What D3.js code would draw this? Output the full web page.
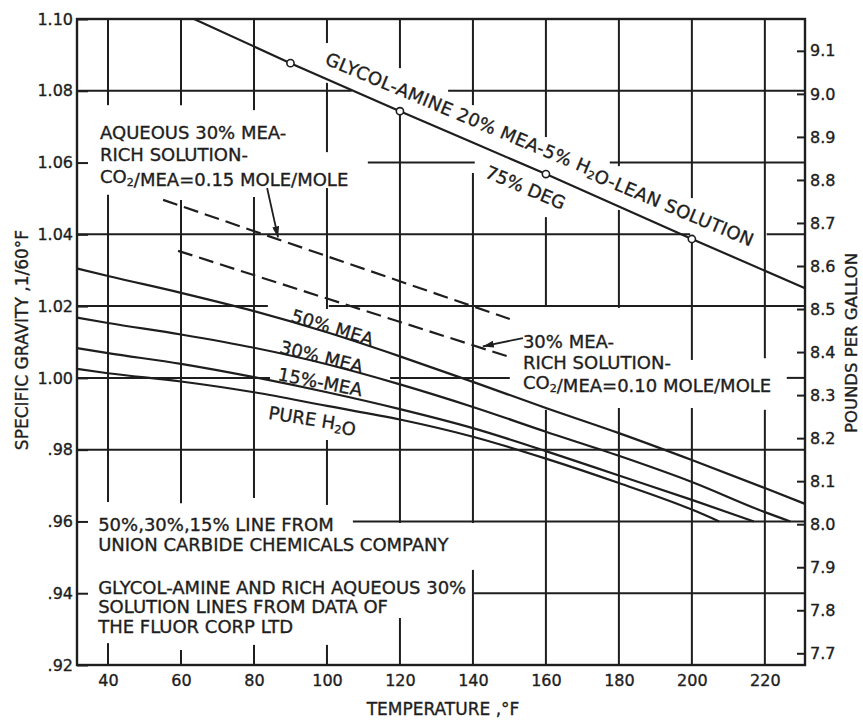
<!DOCTYPE html>
<html>
<head>
<meta charset="utf-8">
<script src="https://cdn.jsdelivr.net/npm/d3@7"></script>
<style>
  html, body { margin: 0; padding: 0; background: #fff; }
  svg { display: block; }
  text { font-family: "DejaVu Sans", "Liberation Sans", sans-serif; fill: #1e1e1e; stroke: #1e1e1e; stroke-width: 0.35px; }
</style>
</head>
<body>
<svg id="chart" width="863" height="721"></svg>
<script>
// ---- Axis ticks ----
const tempTicks = [40, 60, 80, 100, 120, 140, 160, 180, 200, 220];
const sgTicks = [0.92, 0.94, 0.96, 0.98, 1.00, 1.02, 1.04, 1.06, 1.08, 1.10];
const lbsTicks = [7.7, 7.8, 7.9, 8.0, 8.1, 8.2, 8.3, 8.4, 8.5, 8.6, 8.7, 8.8, 8.9, 9.0, 9.1];

// ---- Curves: [temperature °F, specific gravity 60/60°F] ----
const glycolAmine = [[63.5, 1.1000], [90, 1.0877], [120, 1.0743], [160, 1.0568], [200, 1.0387], [231, 1.0250]];
const glycolMarkers = [90, 120, 160, 200];
const mea50 = [[31.5, 1.0305], [40, 1.0284], [60, 1.0237], [80, 1.0186], [100, 1.0127], [120, 1.0060],
               [140, 0.9989], [160, 0.9916], [180, 0.9846], [200, 0.9771], [220, 0.9693], [231, 0.9649]];
const mea30 = [[31.5, 1.0168], [40, 1.0153], [60, 1.0121], [80, 1.0084], [100, 1.0038], [120, 0.9982],
               [140, 0.9919], [160, 0.9850], [180, 0.9783], [200, 0.9710], [220, 0.9626], [227, 0.9600]];
const mea15 = [[31.5, 1.0083], [40, 1.0069], [60, 1.0039], [80, 1.0002], [100, 0.9960], [120, 0.9913],
               [140, 0.9860], [160, 0.9796], [180, 0.9728], [200, 0.9660], [217, 0.9600]];
const pureWater = [[31.5, 1.0025], [40, 1.0013], [60, 0.9990], [80, 0.9960], [100, 0.9922], [120, 0.9884],
                   [140, 0.9836], [160, 0.9775], [180, 0.9707], [200, 0.9633], [207.5, 0.9600]];
// Rich aqueous 30% MEA solutions (dashed)
const rich015 = [[55.1, 1.0496], [150.1, 1.0164]];
const rich010 = [[59.2, 1.0354], [150.1, 1.0058]];

// ---- Grid lines are interrupted where lettering crosses them ----
const vGrid = [
  { t: 40,  gaps: [[1.0510, 1.0760], [0.9261, 0.9654]] },
  { t: 60,  gaps: [[1.0496, 1.0760], [0.9242, 0.9651]] },
  { t: 80,  gaps: [[1.0504, 1.0746], [0.9256, 0.9665]] },
  { t: 100, gaps: [[1.0822, 1.0933], [1.0529, 1.0629], [0.9827, 1.0192], [0.9256, 0.9646]] },
  { t: 120, gaps: [[1.0741, 1.0863], [0.9331, 0.9596]] },
  { t: 140, gaps: [[1.0571, 1.0760], [0.9465, 0.9596]] },
  { t: 160, gaps: [[1.0448, 1.0671], [0.9911, 1.0203]] },
  { t: 180, gaps: [[1.0468, 1.0590], [0.9916, 1.0195]] },
  { t: 200, gaps: [[1.0390, 1.0501], [0.9916, 1.0050]] },
  { t: 220, gaps: [[0.9911, 1.0055]] }
];
const hGrid = [
  { sg: 1.08, gaps: [[106.8, 133.2]] },
  { sg: 1.06, gaps: [[31.5, 111.2], [140.5, 177.5]] },
  { sg: 1.04, gaps: [[199.5, 220.5]] },
  { sg: 1.02, gaps: [[83.8, 100.5]] },
  { sg: 1.00, gaps: [[84.4, 117.3], [150.1, 226.0]] },
  { sg: 0.98, gaps: [] },
  { sg: 0.96, gaps: [[31.5, 107.1]] },
  { sg: 0.94, gaps: [[31.5, 140.3]] }
];

// ---- Lettering ----
const note015 = ["AQUEOUS 30% MEA-", "RICH SOLUTION-", "CO_2/MEA=0.15 MOLE/MOLE"];
const note010 = ["30% MEA-", "RICH SOLUTION-", "CO_2/MEA=0.10 MOLE/MOLE"];
const sourceNote1 = ["50%,30%,15% LINE FROM", "UNION CARBIDE CHEMICALS COMPANY"];
const sourceNote2 = ["GLYCOL-AMINE AND RICH AQUEOUS 30%", "SOLUTION LINES FROM DATA OF", "THE FLUOR CORP LTD"];
const curveLabels = [
  { text: "GLYCOL-AMINE 20% MEA-5% H_2O-LEAN SOLUTION", t: 99.2, sg: 1.0875, angle: 22.8, spacing: 0.35 },
  { text: "75% DEG", t: 143.0, sg: 1.0560, angle: 22.8, spacing: 0 },
  { text: "50% MEA", t: 89.9, sg: 1.0158, angle: 17, spacing: 0 },
  { text: "30% MEA", t: 86.8, sg: 1.0070, angle: 14, spacing: 0 },
  { text: "15%-MEA", t: 86.3, sg: 0.9994, angle: 11, spacing: 0 },
  { text: "PURE H_2O", t: 83.8, sg: 0.9886, angle: 9, spacing: 0 }
];

const ink = "#1e1e1e";
const svg = d3.select("#chart");
const x = d3.scaleLinear().domain([31.5, 231]).range([77, 805]);
const y = d3.scaleLinear().domain([0.92, 1.10]).range([665, 19]);
const yLbs = d3.scaleLinear().domain([0.92 * 8.34, 1.10 * 8.34]).range([665, 19]);

// Complement of the gaps inside [lo, hi]
function segments(lo, hi, gaps) {
  const out = [];
  let cur = lo;
  gaps.slice().sort((a, b) => a[0] - b[0]).forEach(([a, b]) => {
    if (a > cur) out.push([cur, a]);
    cur = Math.max(cur, b);
  });
  if (cur < hi) out.push([cur, hi]);
  return out;
}

const grid = svg.append("g").attr("stroke", ink).attr("stroke-width", 2).attr("fill", "none");
vGrid.forEach(g => {
  segments(0.92, 1.10, g.gaps).forEach(([a, b]) => {
    grid.append("line").attr("x1", x(g.t)).attr("x2", x(g.t)).attr("y1", y(a)).attr("y2", y(b));
  });
});
hGrid.forEach(g => {
  segments(31.5, 231, g.gaps).forEach(([a, b]) => {
    grid.append("line").attr("x1", x(a)).attr("x2", x(b)).attr("y1", y(g.sg)).attr("y2", y(g.sg));
  });
});

// ---- Curves ----
const line = d3.line().x(d => x(d[0])).y(d => y(d[1])).curve(d3.curveMonotoneX);
const curves = svg.append("g").attr("fill", "none").attr("stroke", ink).attr("stroke-width", 2.2);
[glycolAmine, mea50, mea30, mea15, pureWater].forEach(c => curves.append("path").attr("d", line(c)));
[rich015, rich010].forEach(c => curves.append("path").attr("d", line(c)).attr("stroke-dasharray", "15,7"));

svg.append("g").selectAll("circle")
  .data(glycolAmine.filter(d => glycolMarkers.includes(d[0])))
  .join("circle")
  .attr("cx", d => x(d[0])).attr("cy", d => y(d[1])).attr("r", 3.6)
  .attr("fill", "#fff").attr("stroke", ink).attr("stroke-width", 1.6);

// ---- Arrows from the rich-solution notes to their dashed lines ----
svg.append("defs").append("marker")
  .attr("id", "head").attr("markerUnits", "userSpaceOnUse")
  .attr("markerWidth", 11).attr("markerHeight", 7).attr("refX", 11).attr("refY", 3.5)
  .attr("orient", "auto")
  .append("path").attr("d", "M0,0 L11,3.5 L0,7 Z").attr("fill", ink);
function onLine(pts, t) {
  const [a, b] = pts;
  return a[1] + (b[1] - a[1]) * (t - a[0]) / (b[0] - a[0]);
}
const arrows = [
  { from: [83.6, 1.0529], toT: 86.6, curve: rich015 },
  { from: [153.7, 1.0111], toT: 142.7, curve: rich010 }
];
arrows.forEach(a => {
  svg.append("line")
    .attr("x1", x(a.from[0])).attr("y1", y(a.from[1]))
    .attr("x2", x(a.toT)).attr("y2", y(onLine(a.curve, a.toT)) - 2)
    .attr("stroke", ink).attr("stroke-width", 1.8).attr("marker-end", "url(#head)");
});

// ---- Text helpers (underscore marks a subscript character) ----
function fillText(sel, str) {
  const parts = str.split(/_(.)/);
  parts.forEach((p, i) => {
    if (!p) return;
    if (i % 2 === 1) {
      sel.append("tspan").attr("font-size", "0.62em").attr("dy", "0.3em").text(p);
      sel.append("tspan").attr("dy", "-0.3em").text("");
    } else {
      sel.append("tspan").text(p);
    }
  });
}
function block(lines, t, sg, spacing) {
  lines.forEach((s, i) => {
    const tx = svg.append("text").attr("x", x(t)).attr("y", y(sg) + i * spacing)
      .attr("font-size", 18);
    fillText(tx, s);
  });
}
block(note015, 37.8, 1.0666, 22);
block(note010, 153.7, 1.0083, 20.5);
block(sourceNote1, 37.3, 0.9573, 19.5);
block(sourceNote2, 37.3, 0.9398, 19.5);

curveLabels.forEach(l => {
  const tx = svg.append("text").attr("font-size", 18).attr("letter-spacing", l.spacing)
    .attr("transform", `translate(${x(l.t)},${y(l.sg)}) rotate(${l.angle})`);
  fillText(tx, l.text);
});

// ---- Axes ----
const sgFmt = d => d3.format(".2f")(d).replace(/^0/, "");
function styleAxis(g) {
  g.select(".domain").remove();
  g.selectAll(".tick line").attr("stroke", ink).attr("stroke-width", 2);
  g.selectAll(".tick text").attr("font-size", 16).attr("font-family", "DejaVu Sans, sans-serif").attr("fill", ink);
}
svg.append("g").attr("transform", "translate(77,0)")
  .call(d3.axisLeft(y).tickValues(sgTicks).tickFormat(sgFmt).tickSizeInner(-11).tickSizeOuter(0).tickPadding(4))
  .call(styleAxis);
svg.append("g").attr("transform", "translate(805,0)")
  .call(d3.axisRight(yLbs).tickValues(lbsTicks).tickFormat(d3.format(".1f")).tickSizeInner(-8).tickSizeOuter(0).tickPadding(5))
  .call(styleAxis);
svg.append("g").attr("transform", "translate(0,665)")
  .call(d3.axisBottom(x).tickValues(tempTicks).tickSize(0).tickPadding(10))
  .call(styleAxis);

// ---- Frame ----
svg.append("rect").attr("x", 77).attr("y", 19).attr("width", 728).attr("height", 646)
  .attr("fill", "none").attr("stroke", ink).attr("stroke-width", 2.4);

// ---- Axis titles ----
svg.append("text").attr("x", 443).attr("y", 715).attr("text-anchor", "middle")
  .attr("font-size", 17).text("TEMPERATURE ,°F");
svg.append("text").attr("transform", "translate(28,340) rotate(-90)").attr("text-anchor", "middle")
  .attr("font-size", 17).text("SPECIFIC GRAVITY ,1/60°F");
svg.append("text").attr("transform", "translate(857,343) rotate(-90)").attr("text-anchor", "middle")
  .attr("font-size", 16.5).text("POUNDS PER GALLON");
</script>
</body>
</html>
